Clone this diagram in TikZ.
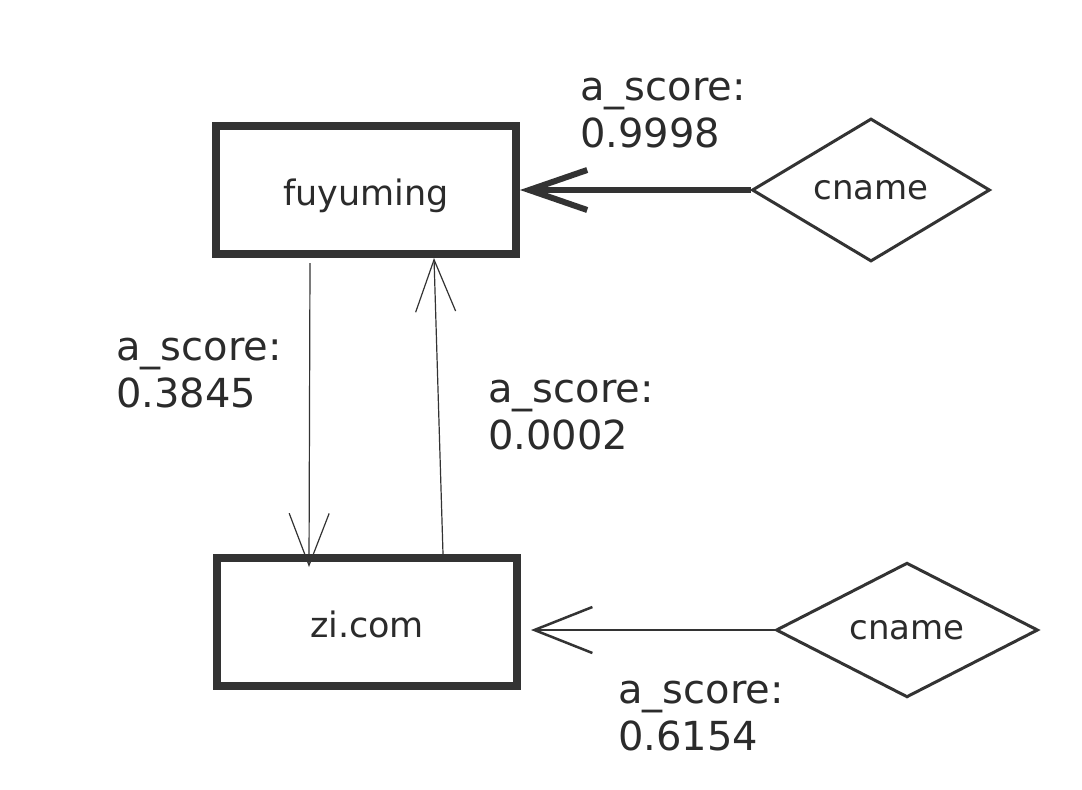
\documentclass[tikz,border=0pt]{standalone}
\usepackage{fontspec}
\setmainfont{DejaVu Sans}
\usetikzlibrary{shapes.geometric,arrows.meta}
\definecolor{ink}{HTML}{333333}
\definecolor{txt}{HTML}{2B2B2B}
\begin{document}
\begin{tikzpicture}[x=1pt,y=-1pt,
  entity/.style={draw=ink,line width=8pt,minimum width=300pt,minimum height=128pt,inner sep=0pt,text=txt,text height=38pt,text depth=8pt,font=\fontsize{35}{40}\selectfont},
  rel/.style={draw=ink,line width=3pt,shape=diamond,inner sep=0pt,text=txt,font=\fontsize{34}{40}\selectfont},
  score/.style={anchor=north west,inner sep=0pt,align=left,text=txt,font=\fontsize{40}{47}\selectfont},
  thickarrow/.style={draw=ink,line width=6pt,-{Straight Barb[length=58pt,width=40pt]}},
  midarrow/.style={draw=ink,line width=2.5pt,-{Straight Barb[length=58pt,width=46pt]}},
  thinarrow/.style={draw=ink,line width=1.2pt,-{Straight Barb[length=52pt,width=40pt]}}
]
\useasboundingbox[fill=white] (0,0) rectangle (1082,790);

\node[entity] (b1) at (366,190) {fuyuming};
\node[entity] (b2) at (367,622) {zi.com};

\node[rel,minimum width=238pt,minimum height=143pt] (d1) at (871,190) {cname};
\node[rel,minimum width=262pt,minimum height=123pt] (d2) at (907,630) {cname};

\draw[thickarrow] (d1.west) -- (b1.east);
\draw[midarrow] (d2.west) -- ([xshift=10pt,yshift=-8pt]b2.east);
\draw[thinarrow] ([xshift=-56pt,yshift=-5pt]b1.south) -- ([xshift=-58pt,yshift=-13pt]b2.north);
\draw[thinarrow] ([xshift=76pt]b2.north) -- ([xshift=68pt]b1.south);

\node[score] (s1) at (580,78) {a\_score:\\0.9998};
\node[score] (s2) at (116,338) {a\_score:\\0.3845};
\node[score] (s3) at (488,380) {a\_score:\\0.0002};
\node[score] (s4) at (618,681) {a\_score:\\0.6154};
\end{tikzpicture}
\end{document}
